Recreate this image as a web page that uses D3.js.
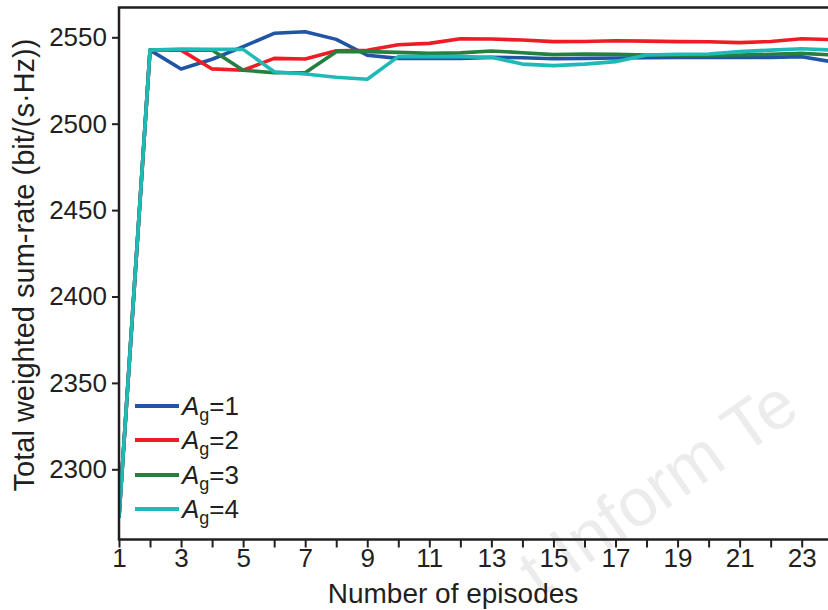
<!DOCTYPE html>
<html>
<head>
<meta charset="utf-8">
<script src="https://cdn.jsdelivr.net/npm/d3@7"></script>
<style>
  html, body { margin: 0; padding: 0; background: #ffffff; }
  svg { display: block; }
</style>
</head>
<body>
<script>
const episodes = d3.range(1, 25);
const ag1 = [2272, 2542.6, 2531.7, 2537.3, 2544.6, 2552.3, 2553.2, 2548.8, 2539.6, 2537.8, 2537.7, 2537.7,
  2538.4, 2538.2, 2537.6, 2537.8, 2538, 2538.2, 2538.4, 2538.4, 2538.4, 2538.4, 2538.8, 2535.7];
const ag2 = [2272, 2542.6, 2542.6, 2531.7, 2530.9, 2537.8, 2537.4, 2542.2, 2542.5, 2545.7, 2546.5, 2549.2,
  2549, 2548.4, 2547.5, 2547.6, 2548, 2547.8, 2547.5, 2547.4, 2546.9, 2547.6, 2549.2, 2548.6];
const ag3 = [2272, 2542.6, 2542.6, 2542.6, 2530.9, 2529.5, 2529.5, 2541.7, 2541.7, 2541.3, 2540.7, 2541,
  2542.1, 2541.1, 2540, 2540.3, 2540.2, 2539.8, 2539.6, 2539.6, 2539.8, 2540.2, 2540.7, 2539.8];
const ag4 = [2272, 2542.6, 2543.2, 2543, 2543, 2530.1, 2528.8, 2526.9, 2525.7, 2538.8, 2538.8, 2538.8,
  2538.4, 2534.5, 2533.6, 2534.5, 2535.9, 2539.8, 2540.2, 2540.3, 2541.7, 2542.6, 2543.4, 2542.6];
const seriesNames = ['1', '2', '3', '4'];
const seriesColors = ['#1f55a3', '#ee1d25', '#24803f', '#1fbab7'];
const yTicks = [2300, 2350, 2400, 2450, 2500, 2550];
const xTicks = d3.range(1, 24);

const W = 828, H = 610;
const plotL = 119, plotR = 828, plotT = 7.5, plotB = 539.5;
const ink = '#231f20';
const font = 'Liberation Sans, Arial, Helvetica, sans-serif';

const svg = d3.select('body').append('svg')
  .attr('width', W)
  .attr('height', H);

const x = d3.scaleLinear().domain([1, 23]).range([plotL, 801.7]);
const y = d3.scaleLinear().domain([2300, 2550]).range([469.3, 37.3]);

// watermark (faint)
svg.append('text')
  .attr('transform', 'translate(540,598) rotate(-35)')
  .attr('font-family', font)
  .attr('font-size', 68)
  .attr('fill', '#000')
  .attr('opacity', 0.07)
  .text('t Inform Te');

svg.append('defs').append('clipPath').attr('id', 'plot')
  .append('rect')
  .attr('x', plotL).attr('y', plotT)
  .attr('width', plotR - plotL).attr('height', plotB - plotT);

// lines
const all = [ag1, ag2, ag3, ag4];
const line = d3.line()
  .x((d, i) => x(episodes[i]))
  .y(d => y(d));

svg.append('g').attr('clip-path', 'url(#plot)')
  .selectAll('path')
  .data(all)
  .join('path')
  .attr('d', line)
  .attr('fill', 'none')
  .attr('stroke', (d, i) => seriesColors[i])
  .attr('stroke-width', 3.6)
  .attr('stroke-linejoin', 'round');

// x axis
const xAxis = svg.append('g')
  .attr('transform', `translate(0,${plotB})`)
  .call(d3.axisBottom(x).tickValues(xTicks).tickSize(8).tickSizeOuter(0)
    .tickFormat(d => d % 2 === 1 ? d : ''));
xAxis.select('.domain').remove();
xAxis.selectAll('.tick line').attr('stroke', ink).attr('stroke-width', 2);
xAxis.selectAll('.tick text')
  .attr('font-family', font)
  .attr('font-size', 26)
  .attr('fill', ink)
  .attr('dy', '0.71em')
  .attr('y', 9);

// y axis
const yAxis = svg.append('g')
  .attr('transform', `translate(${plotL},0)`)
  .call(d3.axisLeft(y).tickValues(yTicks).tickSize(7).tickSizeOuter(0).tickFormat(d3.format('d')));
yAxis.select('.domain').remove();
yAxis.selectAll('.tick line').attr('stroke', ink).attr('stroke-width', 2);
yAxis.selectAll('.tick text')
  .attr('font-family', font)
  .attr('font-size', 26)
  .attr('fill', ink)
  .attr('x', -12);

// frame lines
svg.append('path')
  .attr('d', `M${plotR},${plotT}H${plotL}V${plotB}H${plotR}`)
  .attr('fill', 'none')
  .attr('stroke', ink)
  .attr('stroke-width', 2.5);

// axis titles
svg.append('text')
  .attr('x', 453)
  .attr('y', 603)
  .attr('text-anchor', 'middle')
  .attr('font-family', font)
  .attr('font-size', 28)
  .attr('fill', ink)
  .text('Number of episodes');

svg.append('text')
  .attr('transform', 'translate(34,265) rotate(-90)')
  .attr('text-anchor', 'middle')
  .attr('font-family', font)
  .attr('font-size', 29)
  .attr('fill', ink)
  .text('Total weighted sum-rate (bit/(s·Hz))');

// legend
const legend = svg.append('g');
const rows = [406, 440, 475, 509];
seriesNames.forEach((name, i) => {
  legend.append('line')
    .attr('x1', 135).attr('x2', 179)
    .attr('y1', rows[i]).attr('y2', rows[i])
    .attr('stroke', seriesColors[i])
    .attr('stroke-width', 4);
  const t = legend.append('text')
    .attr('x', 182)
    .attr('y', rows[i] + 9)
    .attr('font-family', font)
    .attr('font-size', 26)
    .attr('fill', ink);
  t.append('tspan').attr('font-style', 'italic').text('A');
  t.append('tspan').attr('font-size', 18).attr('dy', 6).text('g');
  t.append('tspan').attr('dy', -6).text('=' + name);
});
</script>
</body>
</html>
